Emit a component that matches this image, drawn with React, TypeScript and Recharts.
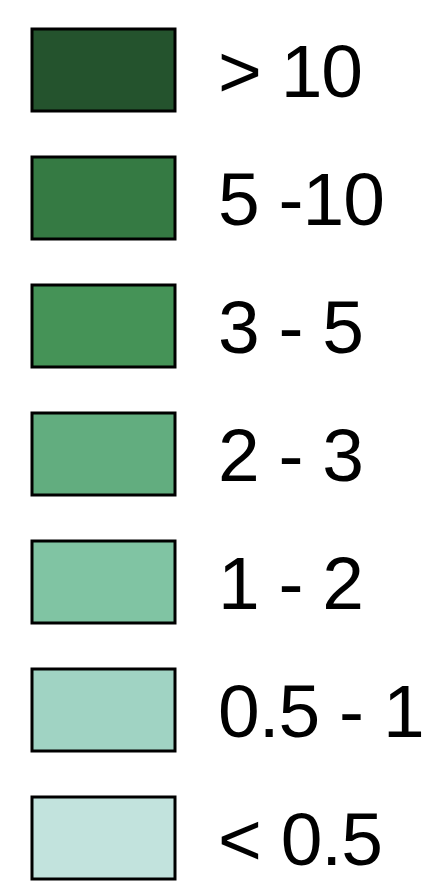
import { BarChart, Bar, XAxis, YAxis, Cell } from 'recharts';

// legend classes, top to bottom
const labels = ['> 10', '5 -10', '3 - 5', '2 - 3', '1 - 2', '0.5 - 1', '< 0.5'];
const colors = ['#24532D', '#357A43', '#459357', '#62AD7F', '#80C4A3', '#A0D3C3', '#C2E3DD'];
// every swatch has the same size
const sizes = [1, 1, 1, 1, 1, 1, 1];

const data = labels.map((label, i) => ({ label, size: sizes[i] }));

export default function App() {
  return (
    <div style={{ position: 'absolute', left: 0, top: 0, background: '#fff' }}>
      <BarChart
        width={432}
        height={908}
        data={data}
        layout="vertical"
        margin={{ top: 6, right: 0, bottom: 6, left: 32 }}
        barCategoryGap={23}
      >
        <XAxis type="number" domain={[0, 1]} hide />
        <YAxis
          type="category"
          dataKey="label"
          orientation="right"
          width={257}
          axisLine={false}
          tickLine={false}
          tickSize={0}
          tickMargin={43}
          interval={0}
          tick={{
            fill: '#000',
            fontSize: 75,
            letterSpacing: -1,
            fontFamily: 'Liberation Sans, Arial, sans-serif',
            textAnchor: 'start',
          }}
        />
        <Bar dataKey="size" stroke="#000" strokeWidth={3} isAnimationActive={false}>
          {data.map((d, i) => (
            <Cell key={d.label} fill={colors[i]} />
          ))}
        </Bar>
      </BarChart>
    </div>
  );
}
